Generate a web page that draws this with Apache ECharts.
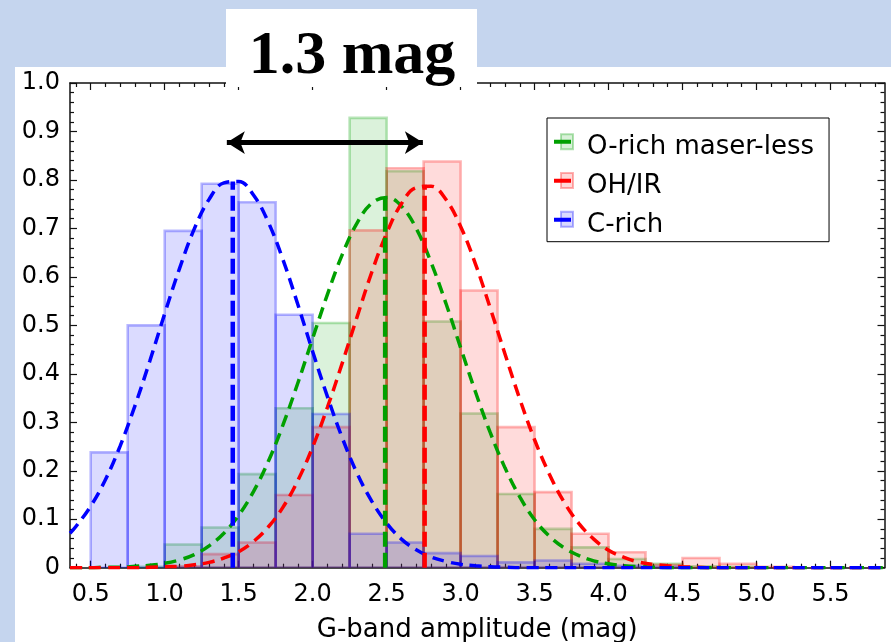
<!DOCTYPE html>
<html><head><meta charset="utf-8">
<script src="https://cdn.jsdelivr.net/npm/echarts@6/dist/echarts.min.js"></script>
<style>html,body{margin:0;padding:0;background:#c5d5ee}#c{width:891px;height:642px}</style>
</head><body><div id="c"></div>
<script>
// ---------------- data ----------------
const seriesNames = ['O-rich maser-less', 'OH/IR', 'C-rich'];
const seriesColors = ['#00a000', '#ff0000', '#0000ff'];
const seriesRGB = ['0,160,0', '255,0,0', '0,0,255'];

const binLeft = [0.50,0.75,1.00,1.25,1.50,1.75,2.00,2.25,2.50,2.75,3.00,3.25,3.50,3.75,4.00,4.25,4.50,4.75,5.00,5.25,5.50];
const binWidth = 0.25;
const histORich = [0,0.002,0.048,0.083,0.193,0.329,0.505,0.928,0.818,0.508,0.318,0.152,0.080,0.042,0.018,0.008,0.003,0.002,0,0,0];
const histOHIR  = [0,0,0.003,0.028,0.052,0.150,0.290,0.696,0.824,0.838,0.572,0.290,0.156,0.070,0.032,0.006,0.020,0.008,0.002,0,0];
const histCRich = [0.238,0.500,0.695,0.792,0.754,0.522,0.317,0.070,0.052,0.030,0.024,0.011,0.015,0.008,0.004,0.002,0,0,0,0,0];

const curveX = [0.36,0.4,0.5,0.6,0.7,0.8,0.9,1.0,1.1,1.2,
                1.3,1.4,1.5,1.6,1.7,1.8,1.9,2.0,2.1,2.2,
                2.3,2.4,2.5,2.6,2.7,2.8,2.9,3.0,3.1,3.2,
                3.3,3.4,3.5,3.6,3.7,3.8,3.9,4.0,4.1,4.2,
                4.3,4.4,4.5,4.6,4.7,4.8,4.9,5.0,5.1,5.2,
                5.3,5.4,5.5,5.6,5.7,5.8,5.86];
const fitORich = [0,0,0,0.001,0.001,0.003,0.005,0.009,0.016,0.027,
                  0.045,0.071,0.108,0.157,0.219,0.295,0.381,0.473,0.564,0.646,
                  0.711,0.752,0.764,0.746,0.700,0.630,0.546,0.454,0.363,0.279,
                  0.206,0.146,0.099,0.065,0.041,0.025,0.014,0.008,0.004,0.002,
                  0.001,0,0,0,0,0,0,0,0,0,
                  0,0,0,0,0,0,0];
const fitOHIR = [0,0,0,0,0,0,0.001,0.002,0.003,0.006,
                 0.011,0.020,0.033,0.054,0.084,0.125,0.180,0.249,0.331,0.422,
                 0.517,0.610,0.690,0.751,0.784,0.787,0.760,0.704,0.627,0.536,
                 0.441,0.348,0.264,0.193,0.135,0.091,0.059,0.036,0.022,0.012,
                 0.007,0.004,0.002,0.001,0,0,0,0,0,0,
                 0,0,0,0,0,0,0];
const fitCRich = [0.071,0.085,0.127,0.182,0.252,0.335,0.427,0.524,0.617,0.699,
                  0.760,0.794,0.797,0.769,0.713,0.635,0.543,0.446,0.353,0.268,
                  0.195,0.137,0.092,0.059,0.037,0.022,0.013,0.007,0.004,0.002,
                  0.001,0,0,0,0,0,0,0,0,0,
                  0,0,0,0,0,0,0,0,0,0,
                  0,0,0,0,0,0,0];

const peakX = [2.49, 2.757, 1.46];
const peakY = [0.764, 0.790, 0.797];

const arrowFrom = [1.42, 0.877];
const arrowTo = [2.745, 0.877];
const annotationText = '1.3 mag';

const xTickValues = [0.5,1.0,1.5,2.0,2.5,3.0,3.5,4.0,4.5,5.0,5.5];
const xTickLabels = ['0.5','1.0','1.5','2.0','2.5','3.0','3.5','4.0','4.5','5.0','5.5'];
const xAxisName = 'G-band amplitude (mag)';
const xMin = 0.36, xMax = 5.865;

// -------------- build ---------------
const xMinor = [];
for (let i = 4; i <= 58; i++) { if (i % 5 !== 0) xMinor.push(i / 10); }

const hists = [histORich, histOHIR, histCRich];
const fits = [fitORich, fitOHIR, fitCRich];
const FONT = '"DejaVu Sans", sans-serif';
const axisCol = '#111';

function xAxisDef(pos, major, showLabel) {
  return {
    type: 'value', position: pos, min: xMin, max: xMax,
    axisLine: { show: major, lineStyle: { color: axisCol, width: 1.5 } },
    axisTick: { show: true, inside: true, length: major ? 7 : 4,
      customValues: major ? xTickValues : xMinor,
      lineStyle: { color: axisCol, width: 1.2 } },
    axisLabel: { show: showLabel, customValues: xTickValues,
      formatter: v => xTickLabels[xTickValues.findIndex(t => Math.abs(t - v) < 1e-6)] || '',
      fontSize: 24, color: '#000', fontFamily: FONT, margin: 15 },
    splitLine: { show: false },
    name: showLabel ? xAxisName : '', nameLocation: 'middle', nameGap: 50,
    nameTextStyle: { fontSize: 26, color: '#000', fontFamily: FONT }
  };
}
function yAxisDef(pos, showLabel) {
  return {
    type: 'value', position: pos, min: 0, max: 1, interval: 0.1,
    axisLine: { show: true, lineStyle: { color: axisCol, width: 1.5 } },
    axisTick: { show: true, inside: true, length: 7, lineStyle: { color: axisCol, width: 1.2 } },
    minorTick: { show: true, splitNumber: 5, length: 4, lineStyle: { color: axisCol, width: 1.2 } },
    axisLabel: { show: showLabel, formatter: v => v === 0 ? '0' : v.toFixed(1),
      fontSize: 24, color: '#000', fontFamily: FONT, margin: 10, padding: [5, 0, 0, 0] },
    splitLine: { show: false }
  };
}

const series = [];
hists.forEach((h, k) => {
  const data = [];
  binLeft.forEach((b, i) => { if (h[i] > 0) data.push([b, h[i]]); });
  series.push({
    type: 'custom', name: seriesNames[k], xAxisIndex: 0, yAxisIndex: 0, z: 2, clip: true,
    data: data, encode: { x: 0, y: 1 },
    renderItem: (params, api) => {
      const x0 = api.value(0), v = api.value(1);
      const p0 = api.coord([x0, v]);
      const p1 = api.coord([x0 + binWidth, 0]);
      return { type: 'rect', shape: { x: p0[0], y: p0[1], width: p1[0] - p0[0], height: p1[1] - p0[1] },
        style: { fill: 'rgba(' + seriesRGB[k] + ',0.14)', stroke: 'rgba(' + seriesRGB[k] + ',0.28)', lineWidth: 2.6 } };
    }
  });
});
fits.forEach((f, k) => {
  series.push({
    type: 'line', name: seriesNames[k], xAxisIndex: 0, yAxisIndex: 0, z: 3,
    data: curveX.map((x, i) => [x, f[i]]), smooth: 0.4, symbol: 'none', showSymbol: false,
    lineStyle: { color: seriesColors[k], width: 3.5, type: [12, 7] }, silent: true
  });
});
peakX.forEach((px, k) => {
  series.push({
    type: 'line', name: seriesNames[k], xAxisIndex: 0, yAxisIndex: 0, z: 3,
    data: [[px, 0], [px, peakY[k]]], symbol: 'none', showSymbol: false,
    lineStyle: { color: seriesColors[k], width: 4.5, type: [15, 6] }, silent: true,
    markLine: k === 2 ? {
      silent: true, symbol: ['arrow', 'arrow'], symbolSize: [17, 18],
      lineStyle: { color: '#000', width: 5, type: 'solid' }, label: { show: false },
      emphasis: { disabled: true },
      data: [[{ coord: arrowFrom }, { coord: arrowTo }]]
    } : undefined
  });
});

const legendLineY = [141.7, 180.5, 219.3];
const graphics = [
  { type: 'rect', z: -10, shape: { x: 15, y: 67, width: 876, height: 575 }, style: { fill: '#fff' } },
  { type: 'rect', z: 100, shape: { x: 226, y: 9, width: 251, height: 78 }, style: { fill: '#fff' } },
  { type: 'text', z: 101, style: { text: annotationText, x: 352, y: 57, fill: '#000',
      font: 'bold 62px "Liberation Serif", "Times New Roman", serif', align: 'center', verticalAlign: 'middle',
      textAlign: 'center', textVerticalAlign: 'middle' } }
];
legendLineY.forEach((ly, k) => {
  graphics.push({ type: 'rect', z: 5, shape: { x: 561, y: ly - 7.5, width: 12, height: 15 },
    style: { fill: 'rgba(' + seriesRGB[k] + ',0.15)', stroke: 'rgba(' + seriesRGB[k] + ',0.3)', lineWidth: 2 } });
});

const option = {
  animation: false,
  backgroundColor: '#c5d5ee',
  grid: { left: 70, right: 6.5, top: 83, bottom: 74.3, containLabel: false, outerBoundsMode: 'none' },
  xAxis: [xAxisDef('bottom', true, true), xAxisDef('bottom', false, false),
          xAxisDef('top', true, false), xAxisDef('top', false, false)],
  yAxis: [yAxisDef('left', true), yAxisDef('right', false)],
  legend: {
    left: 547, top: 118, orient: 'vertical', selectedMode: false,
    backgroundColor: '#fff', borderColor: '#000', borderWidth: 1, borderRadius: 0,
    padding: [16.7, 15, 3, 7], itemGap: 13, itemWidth: 17, itemHeight: 16, symbolKeepAspect: false,
    icon: 'path://M0,0L17,0L17,4L0,4Z M0,16L0.05,16L0,15.95Z',
    textStyle: { fontSize: 26, fontFamily: FONT, color: '#000', lineHeight: 26, padding: [0, 0, 0, 11] },
    data: seriesNames.map((n, k) => ({ name: n, itemStyle: { color: seriesColors[k] } }))
  },
  graphic: graphics,
  series: series
};
const chart = echarts.init(document.getElementById('c'), null, { renderer: 'canvas' });
chart.setOption(option);
</script></body></html>
